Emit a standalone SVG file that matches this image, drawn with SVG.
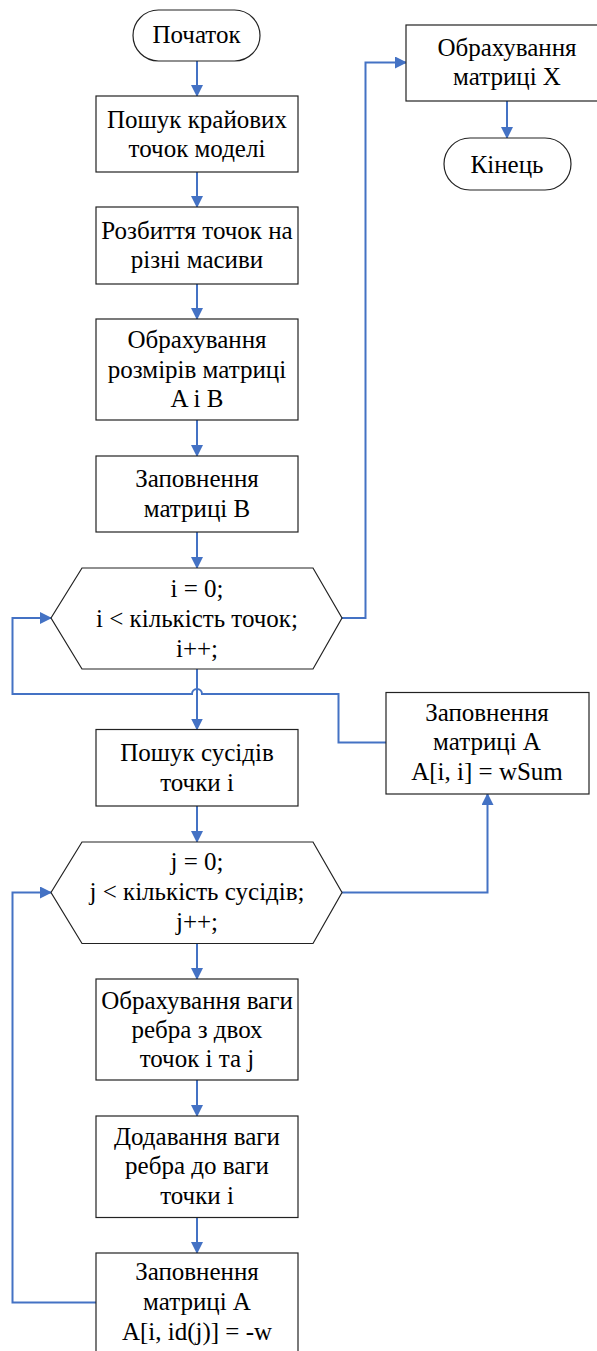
<svg xmlns="http://www.w3.org/2000/svg" width="597" height="1351" viewBox="0 0 597 1351" font-family="'Liberation Serif', 'Times New Roman', serif">
<style>
.s{fill:#fff;stroke:#222;stroke-width:1.2}
.c{fill:none;stroke:#4472C4;stroke-width:2}
.t{font-family:'Liberation Serif','Times New Roman',serif;font-size:25px;fill:#000;text-anchor:middle}
</style>
<defs>
<marker id="ah" markerUnits="userSpaceOnUse" markerWidth="12" markerHeight="12" refX="11" refY="6" orient="auto">
<path d="M0,0 L12,6 L0,12 z" fill="#4472C4"/>
</marker>
</defs>
<rect width="597" height="1351" fill="#fff"/>
<g id="connectors">
<path class="c" d="M197,61 V96" marker-end="url(#ah)"/>
<path class="c" d="M197,172 V207" marker-end="url(#ah)"/>
<path class="c" d="M197,284 V319" marker-end="url(#ah)"/>
<path class="c" d="M197,420 V456" marker-end="url(#ah)"/>
<path class="c" d="M197,532 V568" marker-end="url(#ah)"/>
<path class="c" d="M197,669 V729.5" marker-end="url(#ah)"/>
<path class="c" d="M197,806 V842" marker-end="url(#ah)"/>
<path class="c" d="M197,943.5 V979" marker-end="url(#ah)"/>
<path class="c" d="M197,1080 V1116" marker-end="url(#ah)"/>
<path class="c" d="M197,1217.5 V1253" marker-end="url(#ah)"/>
<path class="c" d="M386,742.5 H338.5 V694 H202 A5,5 0 0 0 192,694 H12.5 V618 H51" marker-end="url(#ah)"/>
<path class="c" d="M96,1302.5 H12.5 V892.5 H51" marker-end="url(#ah)"/>
<path class="c" d="M342,618 H365.5 V62.5 H406" marker-end="url(#ah)"/>
<path class="c" d="M342,892.5 H487.5 V794" marker-end="url(#ah)"/>
<path class="c" d="M507,101 V138" marker-end="url(#ah)"/>
</g>
<g id="start">
<rect class="s" x="133" y="10" width="127" height="51" rx="25.5"/>
<text class="t" x="196.5" y="43">Початок</text>
</g>
<g id="box1">
<rect class="s" x="96" y="96" width="202" height="76"/>
<text class="t" x="197" y="128">Пошук крайових</text>
<text class="t" x="197" y="156.5">точок моделі</text>
</g>
<g id="box2">
<rect class="s" x="96" y="207" width="202" height="77"/>
<text class="t" x="197" y="239">Розбиття точок на</text>
<text class="t" x="197" y="267.5">різні масиви</text>
</g>
<g id="box3">
<rect class="s" x="96" y="319" width="202" height="101"/>
<text class="t" x="197" y="348">Обрахування</text>
<text class="t" x="197" y="378">розмірів матриці</text>
<text class="t" x="197" y="407">A і B</text>
</g>
<g id="box4">
<rect class="s" x="96" y="456" width="202" height="76"/>
<text class="t" x="197" y="486.5">Заповнення</text>
<text class="t" x="197" y="516.5">матриці B</text>
</g>
<g id="loop-i">
<polygon class="s" points="51,618 82,568 313,568 342,618 313,669 82,669"/>
<text class="t" x="197" y="596.5">i = 0;</text>
<text class="t" x="197" y="627">i &lt; кількість точок;</text>
<text class="t" x="197" y="656.5">i++;</text>
</g>
<g id="box-x">
<rect class="s" x="406" y="25" width="202" height="76"/>
<text class="t" x="507" y="56">Обрахування</text>
<text class="t" x="507" y="85">матриці X</text>
</g>
<g id="end">
<rect class="s" x="444" y="138" width="127" height="52" rx="26"/>
<text class="t" x="507" y="172.5">Кінець</text>
</g>
<g id="box-neighbors">
<rect class="s" x="96" y="729.5" width="202" height="76.5"/>
<text class="t" x="197" y="760.5">Пошук сусідів</text>
<text class="t" x="197" y="790.5">точки i</text>
</g>
<g id="box-aii">
<rect class="s" x="386" y="692.5" width="203" height="101.5"/>
<text class="t" x="487" y="721">Заповнення</text>
<text class="t" x="487" y="750">матриці A</text>
<text class="t" x="487" y="780">A[i, i] = wSum</text>
</g>
<g id="loop-j">
<polygon class="s" points="51,892.5 82,842 313,842 342,892.5 313,943.5 82,943.5"/>
<text class="t" x="197" y="870">j = 0;</text>
<text class="t" x="197" y="900">j &lt; кількість сусідів;</text>
<text class="t" x="197" y="929.5">j++;</text>
</g>
<g id="box-weight">
<rect class="s" x="96" y="979" width="202" height="101"/>
<text class="t" x="197" y="1008.5">Обрахування ваги</text>
<text class="t" x="197" y="1037.5">ребра з двох</text>
<text class="t" x="197" y="1066.5">точок i та j</text>
</g>
<g id="box-add">
<rect class="s" x="96" y="1116" width="202" height="101.5"/>
<text class="t" x="197" y="1145">Додавання ваги</text>
<text class="t" x="197" y="1173.5">ребра до ваги</text>
<text class="t" x="197" y="1203.5">точки i</text>
</g>
<g id="box-aij">
<rect class="s" x="96" y="1253" width="202" height="101"/>
<text class="t" x="197" y="1280">Заповнення</text>
<text class="t" x="197" y="1310">матриці A</text>
<text class="t" x="197" y="1339.5">A[i, id(j)] = -w</text>
</g>
</svg>
